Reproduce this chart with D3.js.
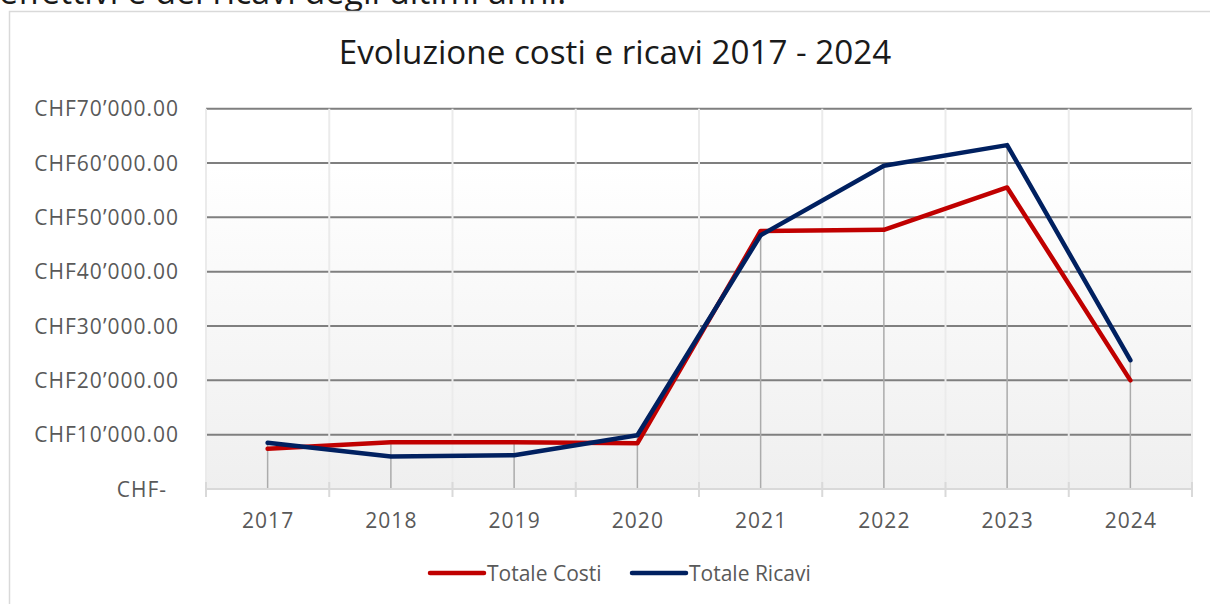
<!DOCTYPE html>
<html>
<head>
<meta charset="utf-8">
<script src="https://cdn.jsdelivr.net/npm/d3@7"></script>
<style>
  body { margin: 0; background: #fff; }
  svg { display: block; font-family: "Open Sans", sans-serif; }
</style>
</head>
<body>
<svg id="chart" width="1210" height="604"></svg>
<script>
var width = 1210;
var height = 604;

// data
var years = ["2017", "2018", "2019", "2020", "2021", "2022", "2023", "2024"];
var costi = [7400, 8600, 8600, 8400, 47500, 47700, 55500, 20000];
var ricavi = [8500, 6000, 6200, 9900, 46700, 59500, 63300, 23700];
var yTicks = [0, 10000, 20000, 30000, 40000, 50000, 60000, 70000];
var seriesNames = ["Totale Costi", "Totale Ricavi"];
var seriesColors = ["#c00000", "#002060"];

var plot = { left: 206, right: 1192, top: 108.7, bottom: 489 };

var svg = d3.select("#chart");

var xScale = d3.scaleBand()
  .domain(years)
  .range([plot.left, plot.right]);

var yScale = d3.scaleLinear()
  .domain([0, 70000])
  .range([plot.bottom, plot.top]);

function xMid(d) {
  return xScale(d) + xScale.bandwidth() / 2;
}

function fmt(v) {
  if (v === 0) return "CHF-";
  return "CHF" + d3.format(",.2f")(v).replace(/,/g, "\u2019");
}

// paragraph text cut off above the chart
svg.append("text")
  .attr("x", -1)
  .attr("y", 4)
  .attr("font-size", 34)
  .attr("fill", "#1a1a1a")
  .text("effettivi e dei ricavi degli ultimi anni.");

// chart frame
svg.append("path")
  .attr("d", "M9.5," + (height + 2) + "V11.5H" + (width + 2))
  .attr("fill", "none")
  .attr("stroke", "#d9d9d9")
  .attr("stroke-width", 1.5);

var defs = svg.append("defs");
var grad = defs.append("linearGradient")
  .attr("id", "bg")
  .attr("x1", 0).attr("y1", 0).attr("x2", 0).attr("y2", 1);
grad.append("stop").attr("offset", "0.15").attr("stop-color", "#ffffff");
grad.append("stop").attr("offset", "1").attr("stop-color", "#efefef");

svg.append("rect")
  .attr("x", plot.left)
  .attr("y", plot.top)
  .attr("width", plot.right - plot.left)
  .attr("height", plot.bottom - plot.top)
  .attr("fill", "url(#bg)");

// title
svg.append("text")
  .attr("x", 615)
  .attr("y", 64)
  .attr("text-anchor", "middle")
  .attr("font-size", 33.2)
  .attr("fill", "#1a1a1a")
  .text("Evoluzione costi e ricavi 2017 - 2024");

// horizontal gridlines
svg.append("g")
  .selectAll("line")
  .data(yTicks.filter(function(d) { return d > 0; }))
  .enter().append("line")
  .attr("x1", plot.left)
  .attr("x2", plot.right)
  .attr("y1", function(d) { return yScale(d); })
  .attr("y2", function(d) { return yScale(d); })
  .attr("stroke", "#7f7f7f")
  .attr("stroke-width", 2);

// vertical band gridlines
var bounds = years.map(function(d) { return xScale(d); }).concat([plot.right]);
svg.append("g")
  .selectAll("line")
  .data(bounds)
  .enter().append("line")
  .attr("x1", function(d) { return d; })
  .attr("x2", function(d) { return d; })
  .attr("y1", plot.top)
  .attr("y2", plot.bottom)
  .attr("stroke", "#ebebeb")
  .attr("stroke-width", 2);

// drop lines from the highest point
svg.append("g")
  .selectAll("line")
  .data(years)
  .enter().append("line")
  .attr("x1", xMid)
  .attr("x2", xMid)
  .attr("y1", function(d, i) { return yScale(Math.max(costi[i], ricavi[i])); })
  .attr("y2", plot.bottom)
  .attr("stroke", "#ababab")
  .attr("stroke-width", 1.5);

// x axis line and ticks
svg.append("line")
  .attr("x1", plot.left)
  .attr("x2", plot.right)
  .attr("y1", plot.bottom)
  .attr("y2", plot.bottom)
  .attr("stroke", "#d9d9d9")
  .attr("stroke-width", 2);

svg.append("g")
  .selectAll("line")
  .data(bounds)
  .enter().append("line")
  .attr("x1", function(d) { return d; })
  .attr("x2", function(d) { return d; })
  .attr("y1", plot.bottom - 7)
  .attr("y2", plot.bottom + 8)
  .attr("stroke", "#d9d9d9")
  .attr("stroke-width", 2);

// axis labels
svg.append("g")
  .selectAll("text")
  .data(years)
  .enter().append("text")
  .attr("x", function(d) { return xMid(d) + 0.5; })
  .attr("y", 528)
  .attr("text-anchor", "middle")
  .attr("font-size", 21)
  .attr("letter-spacing", 1)
  .attr("fill", "#595959")
  .text(function(d) { return d; });

svg.append("g")
  .selectAll("text")
  .data(yTicks)
  .enter().append("text")
  .attr("x", function(d) { return d === 0 ? 167 : 179; })
  .attr("y", function(d) { return yScale(d) + 7.5; })
  .attr("text-anchor", "end")
  .attr("font-size", 21)
  .attr("letter-spacing", 1)
  .attr("fill", "#595959")
  .text(fmt);

// series lines
var line = d3.line()
  .x(function(d, i) { return xMid(years[i]); })
  .y(function(d) { return yScale(d); });

[costi, ricavi].forEach(function(s, k) {
  svg.append("path")
    .datum(s)
    .attr("d", line)
    .attr("fill", "none")
    .attr("stroke", seriesColors[k])
    .attr("stroke-width", 4.5)
    .attr("stroke-linejoin", "round")
    .attr("stroke-linecap", "round");
});

// legend
var legendX = [430, 632];
var legend = svg.append("g")
  .selectAll("g")
  .data(seriesNames)
  .enter().append("g")
  .attr("transform", function(d, i) { return "translate(" + legendX[i] + ",573)"; });

legend.append("line")
  .attr("x1", 0)
  .attr("x2", 54)
  .attr("stroke", function(d, i) { return seriesColors[i]; })
  .attr("stroke-width", 4.5)
  .attr("stroke-linecap", "round");

legend.append("text")
  .attr("x", 57)
  .attr("y", 7.5)
  .attr("font-size", 21)
  .attr("fill", "#595959")
  .text(function(d) { return d; });
</script>
</body>
</html>
